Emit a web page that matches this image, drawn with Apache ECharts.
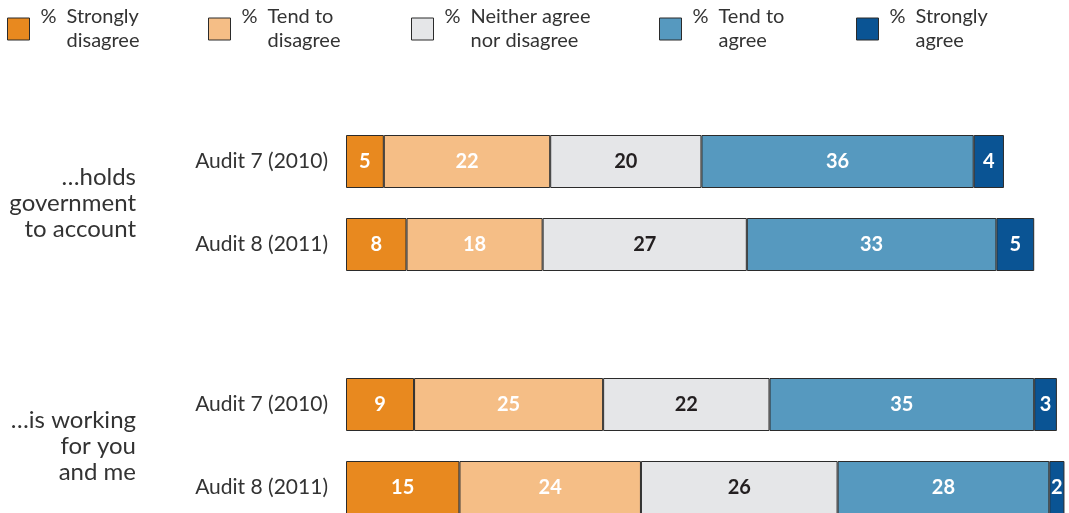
<!DOCTYPE html>
<html>
<head>
<meta charset="utf-8">
<script src="https://cdn.jsdelivr.net/npm/echarts@6/dist/echarts.min.js"></script>
<style>
  html, body { margin: 0; padding: 0; background: #ffffff; }
  #chart { width: 1069px; height: 513px; }
</style>
</head>
<body>
<div id="chart"></div>
<script>
// Bars, top to bottom: question 1 (2010, 2011), question 2 (2010, 2011)
const questions = ['…holds\ngovernment\nto account', '…is working\nfor you\nand me'];
const audits = ['Audit 7 (2010)', 'Audit 8 (2011)'];
const responses = ['Strongly disagree', 'Tend to disagree', 'Neither agree nor disagree', 'Tend to agree', 'Strongly agree'];
const legendLines = [['Strongly', 'disagree'], ['Tend to', 'disagree'], ['Neither agree', 'nor disagree'], ['Tend to', 'agree'], ['Strongly', 'agree']];

const stronglyDisagree = [5, 8, 9, 15];
const tendDisagree = [22, 18, 25, 24];
const neither = [20, 27, 22, 26];
const tendAgree = [36, 33, 35, 28];
const stronglyAgree = [4, 5, 3, 2];
const values = [stronglyDisagree, tendDisagree, neither, tendAgree, stronglyAgree];

const colors = ['#E8891F', '#F5BE86', '#E5E6E8', '#5699BF', '#0A5494'];
const labelColors = ['#ffffff', '#ffffff', '#231f20', '#ffffff', '#ffffff'];
const legendLeft = [7, 208, 411, 659, 856];

const FONT = 'Lato';
const textColor = '#333333';

// Each question gets its own grid; bar centres sit on the grid's top and bottom edges
const grids = [
  { left: 346, width: 723, top: 161.5, height: 83 },
  { left: 346, width: 723, top: 404.5, height: 83 }
];

const xAxes = grids.map((g, i) => ({
  type: 'value', gridIndex: i, min: 0, max: 95.6, show: false
}));

const yAxes = [];
grids.forEach((g, i) => {
  yAxes.push({
    type: 'category', gridIndex: i, inverse: true, data: audits, boundaryGap: false,
    axisLine: { show: false }, axisTick: { show: false },
    axisLabel: { margin: 18, color: textColor, fontFamily: FONT, fontSize: 21 }
  });
  yAxes.push({
    type: 'category', gridIndex: i, position: 'left', offset: 210, data: [questions[i]],
    axisLine: { show: false }, axisTick: { show: false },
    axisLabel: { margin: 0, align: 'right', color: textColor, fontFamily: FONT, fontSize: 24, lineHeight: 26 }
  });
});

const series = [];
grids.forEach((g, gi) => {
  responses.forEach((name, ri) => {
    series.push({
      name: name,
      type: 'bar',
      stack: 'q' + gi,
      xAxisIndex: gi,
      yAxisIndex: gi * 2,
      barWidth: 53,
      data: values[ri].slice(gi * 2, gi * 2 + 2),
      itemStyle: { color: colors[ri], borderColor: '#2b2b2b', borderWidth: 1 },
      label: {
        show: true, position: 'inside', color: labelColors[ri],
        fontFamily: FONT, fontWeight: 'bold', fontSize: 20, padding: [3, 0, 0, 0]
      },
      emphasis: { disabled: true }
    });
  });
});

const legends = responses.map((name, i) => ({
  data: [name],
  left: legendLeft[i],
  top: 5,
  padding: 0,
  icon: 'rect',
  itemWidth: 22,
  itemHeight: 22,
  itemStyle: { borderColor: '#2b2b2b', borderWidth: 1 },
  formatter: () => '{p|%}{t|' + legendLines[i][0] + '}\n{p| }{t|' + legendLines[i][1] + '}',
  textStyle: {
    padding: [0, 0, 0, 6],
    color: textColor, fontFamily: FONT, fontSize: 20, lineHeight: 24,
    rich: {
      p: { width: 26, color: textColor, fontFamily: FONT, fontSize: 20, lineHeight: 24 },
      t: { color: textColor, fontFamily: FONT, fontSize: 20, lineHeight: 24 }
    }
  }
}));

const chart = echarts.init(document.getElementById('chart'), null, { renderer: 'canvas' });
chart.setOption({
  animation: false,
  color: colors,
  legend: legends,
  grid: grids,
  xAxis: xAxes,
  yAxis: yAxes,
  series: series
});
</script>
</body>
</html>
